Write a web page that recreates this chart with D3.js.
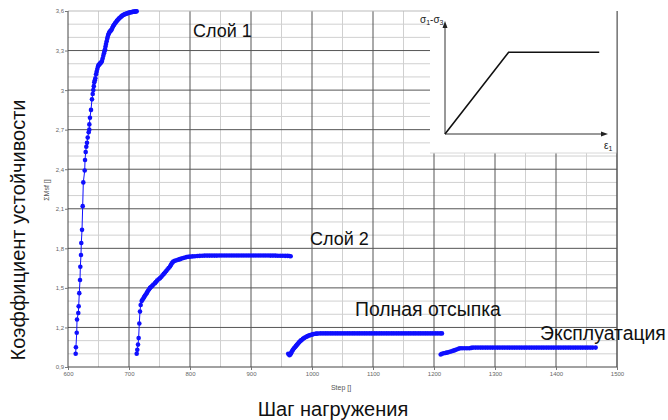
<!DOCTYPE html>
<html>
<head>
<meta charset="utf-8">
<script src="https://cdn.jsdelivr.net/npm/d3@7"></script>
<style>
  body { margin: 0; background: #fff; }
  svg { display: block; font-family: "Liberation Sans", Arial, sans-serif; }
</style>
</head>
<body>
<svg id="chart" width="668" height="420"></svg>
<script>
// values: [step, ΣMsf]
var layer1 = [
  [612.6, 1.00], [613.0, 1.05], [614.3, 1.16], [614.8, 1.26], [616.9, 1.31], [617.5, 1.36],
  [618.5, 1.46], [619.7, 1.56], [620.2, 1.66], [621.3, 1.75], [621.8, 1.84], [623.0, 1.94],
  [624.1, 2.12], [625.1, 2.30], [627.4, 2.39], [627.9, 2.47], [629.0, 2.53], [630.0, 2.57],
  [631.1, 2.60], [632.3, 2.64], [633.9, 2.68], [634.9, 2.70], [635.0, 2.74], [636.0, 2.79],
  [637.7, 2.85], [639.3, 2.93], [640.5, 2.97], [641.5, 3.00], [642.3, 3.03], [643.1, 3.06],
  [644.0, 3.075], [644.8, 3.09], [646.0, 3.12], [647.0, 3.14], [648.0, 3.16], [649.2, 3.18],
  [650.2, 3.19], [651.3, 3.195], [652.2, 3.20], [653.0, 3.205], [654.4, 3.21], [655.7, 3.22],
  [656.8, 3.24], [657.9, 3.26], [659.0, 3.28], [659.8, 3.295], [660.7, 3.31], [661.5, 3.33],
  [662.3, 3.35], [663.4, 3.37], [664.3, 3.39], [665.1, 3.405], [666.0, 3.42], [667.0, 3.43],
  [668.0, 3.44], [669.2, 3.447], [670.4, 3.453], [671.6, 3.46], [672.8, 3.473], [674.0, 3.485],
  [675.5, 3.495], [677.0, 3.506], [678.5, 3.515], [680.0, 3.525], [681.5, 3.532], [683.0, 3.54],
  [684.5, 3.547], [686.0, 3.553], [687.5, 3.559], [689.0, 3.565], [690.5, 3.569], [692.0, 3.573],
  [693.5, 3.576], [695.0, 3.579], [696.5, 3.581], [698.0, 3.584], [699.5, 3.586], [701.0, 3.588],
  [702.5, 3.59], [704.0, 3.591], [705.5, 3.593], [707.0, 3.594], [708.5, 3.595], [710.0, 3.596],
  [711.4, 3.597], [712.6, 3.598]
];
var layer2 = [
  [712.6, 1.00], [713.6, 1.03], [714.8, 1.07], [715.8, 1.12], [716.9, 1.23], [718.0, 1.32],
  [719.1, 1.37], [720.8, 1.40], [722.0, 1.41], [723.5, 1.42], [724.8, 1.43], [726.0, 1.44],
  [727.5, 1.45], [729.0, 1.46], [730.2, 1.47], [731.5, 1.48], [733.0, 1.49], [734.4, 1.50],
  [736.0, 1.507], [738.0, 1.515], [740.0, 1.525], [742.6, 1.536], [744.0, 1.545], [746.0, 1.555],
  [748.5, 1.565], [750.8, 1.574], [753.0, 1.585], [755.0, 1.595], [757.0, 1.606], [759.0, 1.617],
  [761.0, 1.628], [763.0, 1.64], [765.0, 1.651], [767.2, 1.662], [768.6, 1.674], [770.0, 1.685],
  [771.3, 1.692], [772.6, 1.70], [775.0, 1.705], [778.0, 1.71], [781.0, 1.714], [783.6, 1.718],
  [786.0, 1.722], [789.0, 1.727], [792.0, 1.73], [794.6, 1.734], [797.0, 1.736], [800.0, 1.737],
  [804.0, 1.739], [808.0, 1.74], [812.0, 1.742], [816.0, 1.743], [820.0, 1.744], [824.0, 1.745],
  [828.0, 1.745], [832.0, 1.745], [836.0, 1.745], [840.0, 1.745], [844.0, 1.745], [848.0, 1.746],
  [852.0, 1.746], [856.0, 1.746], [860.0, 1.746], [864.0, 1.746], [868.0, 1.746], [872.0, 1.746],
  [876.0, 1.746], [880.0, 1.746], [884.0, 1.746], [888.0, 1.746], [892.0, 1.746], [896.0, 1.746],
  [900.0, 1.746], [904.0, 1.746], [908.0, 1.746], [912.0, 1.746], [916.0, 1.746], [920.0, 1.746],
  [924.0, 1.746], [928.0, 1.746], [932.0, 1.745], [936.0, 1.745], [940.0, 1.745], [944.0, 1.744],
  [948.0, 1.744], [952.0, 1.744], [956.0, 1.743], [960.0, 1.743], [963.0, 1.742], [965.0, 1.74]
];
var fullFill = [
  [961.0, 1.00], [963.0, 0.99], [964.5, 0.995], [965.6, 1.005], [966.7, 1.016], [968.0, 1.025],
  [969.0, 1.033], [970.5, 1.042], [972.0, 1.05], [973.5, 1.058], [975.0, 1.066], [976.2, 1.073],
  [977.5, 1.08], [978.8, 1.087], [980.0, 1.093], [981.5, 1.1], [983.0, 1.105], [985.0, 1.113],
  [987.0, 1.12], [989.0, 1.125], [991.3, 1.13], [993.0, 1.135], [995.0, 1.139], [997.0, 1.142],
  [999.5, 1.145], [1001.0, 1.148], [1003.0, 1.15], [1005.5, 1.152], [1007.7, 1.153], [1010.0, 1.154],
  [1014.0, 1.155], [1018.0, 1.155], [1022.0, 1.155], [1026.0, 1.155], [1030.0, 1.155], [1034.0, 1.155],
  [1038.0, 1.155], [1042.0, 1.155], [1046.0, 1.155], [1050.0, 1.155], [1054.0, 1.155], [1058.0, 1.155],
  [1062.0, 1.155], [1066.0, 1.155], [1070.0, 1.155], [1074.0, 1.155], [1078.0, 1.155], [1082.0, 1.155],
  [1086.0, 1.155], [1090.0, 1.155], [1094.0, 1.155], [1098.0, 1.155], [1102.0, 1.155], [1106.0, 1.155],
  [1110.0, 1.155], [1114.0, 1.155], [1118.0, 1.155], [1122.0, 1.155], [1126.0, 1.155], [1130.0, 1.155],
  [1134.0, 1.155], [1138.0, 1.155], [1142.0, 1.155], [1146.0, 1.155], [1150.0, 1.155], [1154.0, 1.155],
  [1158.0, 1.155], [1162.0, 1.155], [1166.0, 1.155], [1170.0, 1.155], [1174.0, 1.155], [1178.0, 1.155],
  [1182.0, 1.155], [1186.0, 1.155], [1190.0, 1.155], [1194.0, 1.155], [1198.0, 1.155], [1202.0, 1.155],
  [1206.0, 1.155], [1210.0, 1.155], [1213.0, 1.155]
];
var operation = [
  [1211.0, 0.995], [1213.0, 1.00], [1216.0, 1.004], [1218.5, 1.006], [1220.8, 1.009], [1223.5, 1.012],
  [1226.0, 1.016], [1229.0, 1.02], [1231.7, 1.024], [1234.5, 1.028], [1237.0, 1.033], [1240.0, 1.038],
  [1242.6, 1.042], [1246.0, 1.042], [1250.0, 1.042], [1254.0, 1.042], [1258.0, 1.042], [1261.0, 1.045],
  [1264.0, 1.047], [1268.0, 1.047], [1272.0, 1.047], [1276.0, 1.047], [1280.0, 1.047], [1284.0, 1.047],
  [1288.0, 1.047], [1292.0, 1.047], [1296.0, 1.047], [1300.0, 1.047], [1304.0, 1.047], [1308.0, 1.047],
  [1312.0, 1.047], [1316.0, 1.047], [1320.0, 1.047], [1324.0, 1.047], [1328.0, 1.047], [1332.0, 1.047],
  [1336.0, 1.047], [1340.0, 1.047], [1344.0, 1.047], [1348.0, 1.047], [1352.0, 1.047], [1356.0, 1.047],
  [1360.0, 1.047], [1364.0, 1.047], [1368.0, 1.047], [1372.0, 1.047], [1376.0, 1.047], [1380.0, 1.047],
  [1384.0, 1.047], [1388.0, 1.047], [1392.0, 1.047], [1396.0, 1.047], [1400.0, 1.047], [1404.0, 1.047],
  [1408.0, 1.047], [1412.0, 1.047], [1416.0, 1.047], [1420.0, 1.047], [1424.0, 1.047], [1428.0, 1.047],
  [1432.0, 1.047], [1436.0, 1.047], [1440.0, 1.047], [1444.0, 1.047], [1448.0, 1.047], [1452.0, 1.047],
  [1456.0, 1.047], [1460.0, 1.047], [1465.0, 1.047]
];
var series = [layer1, layer2, fullFill, operation];

var xTicks = [600, 700, 800, 900, 1000, 1100, 1200, 1300, 1400, 1500];
var yTicks = [0.9, 1.2, 1.5, 1.8, 2.1, 2.4, 2.7, 3, 3.3, 3.6];
var yTickLabels = ["0,9", "1,2", "1,5", "1,8", "2,1", "2,4", "2,7", "3", "3,3", "3,6"];

// inset sketch (σ1-σ3 vs ε1), in unit coords
var insetCurve = [[0, 0], [0.4, 0.75], [0.97, 0.75]];

var svg = d3.select("#chart");
var plot = { left: 68, right: 617, top: 11, bottom: 367 };

var x = d3.scaleLinear().domain([600, 1500]).range([plot.left, plot.right]);
var y = d3.scaleLinear().domain([0.9, 3.6]).range([plot.bottom, plot.top]);

/* grid */
var grid = svg.append("g");
grid.selectAll("line.vmin").data(d3.range(650, 1500, 100)).enter().append("line")
  .attr("x1", x).attr("x2", x).attr("y1", plot.top).attr("y2", plot.bottom)
  .attr("stroke", "#d0d0d0").attr("stroke-width", 1);
grid.selectAll("line.hmin").data(d3.range(0, 27).map(function(i) { return 0.9 + i * 0.1; })
    .filter(function(v, i) { return i % 3 !== 0; })).enter().append("line")
  .attr("x1", plot.left).attr("x2", plot.right).attr("y1", y).attr("y2", y)
  .attr("stroke", "#d0d0d0").attr("stroke-width", 1);
grid.selectAll("line.vmaj").data(xTicks.slice(1)).enter().append("line")
  .attr("x1", x).attr("x2", x).attr("y1", plot.top).attr("y2", plot.bottom)
  .attr("stroke", "#555").attr("stroke-width", 1);
grid.selectAll("line.hmaj").data(yTicks.slice(1, -1)).enter().append("line")
  .attr("x1", plot.left).attr("x2", plot.right).attr("y1", y).attr("y2", y)
  .attr("stroke", "#555").attr("stroke-width", 1);
// border
grid.append("line").attr("x1", plot.left).attr("x2", plot.right).attr("y1", plot.top).attr("y2", plot.top)
  .attr("stroke", "#bbb");
grid.append("line").attr("x1", plot.left).attr("x2", plot.left).attr("y1", plot.top).attr("y2", plot.bottom)
  .attr("stroke", "#444");
grid.append("line").attr("x1", plot.left).attr("x2", plot.right).attr("y1", plot.bottom).attr("y2", plot.bottom)
  .attr("stroke", "#444");

/* axes */
var yAxis = d3.axisLeft(y).tickValues(yTicks).tickSize(3).tickPadding(1)
  .tickFormat(function(d, i) { return yTickLabels[i]; });
var gy = svg.append("g").attr("transform", "translate(" + plot.left + ",0)").call(yAxis);
var xAxis = d3.axisBottom(x).tickValues(xTicks).tickSize(3).tickPadding(2).tickFormat(d3.format("d"));
var gx = svg.append("g").attr("transform", "translate(0," + plot.bottom + ")").call(xAxis);
[gx, gy].forEach(function(g) {
  g.select(".domain").remove();
  g.selectAll(".tick line").attr("stroke", "#777");
  g.selectAll(".tick text").attr("fill", "#666").style("font-size", "6px")
    .style("font-family", "\"Liberation Sans\", Arial, sans-serif");
});

svg.append("text").attr("x", 341).attr("y", 390).attr("text-anchor", "middle")
  .style("font-size", "7px").attr("fill", "#555").text("Step []");
svg.append("text").attr("transform", "translate(49,190) rotate(-90)").attr("text-anchor", "middle")
  .style("font-size", "7px").attr("fill", "#555").text("ΣMsf []");

/* inset */
var inset = svg.append("g");
inset.append("rect").attr("x", 430).attr("y", plot.top - 1).attr("width", plot.right - 430).attr("height", 143)
  .attr("fill", "#fff").attr("stroke", "none");
inset.append("line").attr("x1", 430).attr("x2", plot.right).attr("y1", 153).attr("y2", 153)
  .attr("stroke", "#d8d8d8");
inset.append("line").attr("x1", plot.right).attr("x2", plot.right).attr("y1", plot.top).attr("y2", plot.bottom)
  .attr("stroke", "#555");
var ix = d3.scaleLinear().domain([0, 1]).range([445, 604]);
var iy = d3.scaleLinear().domain([0, 1]).range([134, 25]);
inset.append("line").attr("x1", ix(0)).attr("x2", ix(0)).attr("y1", iy(0)).attr("y2", iy(1)).attr("stroke", "#333");
inset.append("line").attr("x1", ix(0)).attr("x2", ix(1)).attr("y1", iy(0)).attr("y2", iy(0)).attr("stroke", "#333");
inset.append("path").attr("d", "M" + ix(0) + "," + (iy(1) - 4) + "l-2.5,7h5z").attr("fill", "#222");
inset.append("path").attr("d", "M" + (ix(1) + 4) + "," + iy(0) + "l-7,-2.5v5z").attr("fill", "#222");
inset.append("path").datum(insetCurve)
  .attr("d", d3.line().x(function(d) { return ix(d[0]); }).y(function(d) { return iy(d[1]); }))
  .attr("fill", "none").attr("stroke", "#111").attr("stroke-width", 1.6);
var sig = inset.append("text").attr("x", 420).attr("y", 23).style("font-size", "10px").attr("fill", "#222");
sig.append("tspan").text("σ");
sig.append("tspan").attr("dy", 2).style("font-size", "7px").text("1");
sig.append("tspan").attr("dy", -2).text("-σ");
sig.append("tspan").attr("dy", 2).style("font-size", "7px").text("3");
var eps = inset.append("text").attr("x", 604).attr("y", 149).style("font-size", "10px").attr("fill", "#222");
eps.append("tspan").text("ε");
eps.append("tspan").attr("dy", 2).style("font-size", "7px").text("1");

/* series */
var line = d3.line().x(function(d) { return x(d[0]); }).y(function(d) { return y(d[1]); });
var color = "#0f0fff";
series.forEach(function(s) {
  var g = svg.append("g");
  g.append("path").datum(s).attr("d", line).attr("fill", "none").attr("stroke", color).attr("stroke-width", 1);
  g.selectAll("circle").data(s).enter().append("circle")
    .attr("cx", function(d) { return x(d[0]); }).attr("cy", function(d) { return y(d[1]); })
    .attr("r", 2.3).attr("fill", color);
});

/* annotations */
var labels = [
  { t: "Слой 1", x: 193, y: 37, s: 18 },
  { t: "Слой 2", x: 310, y: 245, s: 18 },
  { t: "Полная отсыпка", x: 355, y: 316, s: 19.4 },
  { t: "Эксплуатация", x: 540, y: 340, s: 19.4 }
];
svg.selectAll("text.note").data(labels).enter().append("text").attr("class", "note")
  .attr("x", function(d) { return d.x; }).attr("y", function(d) { return d.y; })
  .style("font-size", function(d) { return d.s + "px"; }).attr("fill", "#111").text(function(d) { return d.t; });

svg.append("text").attr("transform", "translate(25,230) rotate(-90)").attr("text-anchor", "middle")
  .style("font-size", "20px").attr("fill", "#111").text("Коэффициент устойчивости");
svg.append("text").attr("x", 333).attr("y", 416).attr("text-anchor", "middle")
  .style("font-size", "20px").attr("fill", "#111").text("Шаг нагружения");
</script>
</body>
</html>
